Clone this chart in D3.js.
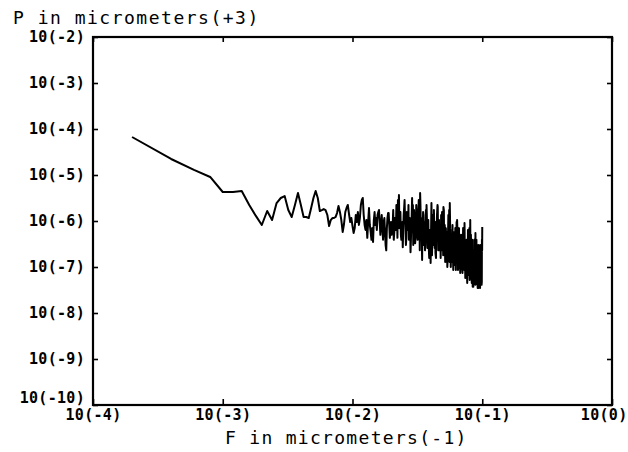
<!DOCTYPE html>
<html><head><meta charset="utf-8">
<script src="https://cdn.jsdelivr.net/npm/d3@7"></script>
<style>html,body{margin:0;padding:0;background:#fff;} svg{display:block;}</style>
</head><body>
<svg id="chart" width="628" height="452"></svg>
<script>
// ---------- data ----------
const xTickValues = [1e-4, 1e-3, 1e-2, 1e-1, 1];
const xTickLabels = ["10(-4)", "10(-3)", "10(-2)", "10(-1)", "10(0)"];
const yTickValues = [1e-10, 1e-9, 1e-8, 1e-7, 1e-6, 1e-5, 1e-4, 1e-3, 1e-2];
const yTickLabels = ["10(-10)", "10(-9)", "10(-8)", "10(-7)", "10(-6)", "10(-5)", "10(-4)", "10(-3)", "10(-2)"];
const yTitle = "P in micrometers(+3)";
const xTitle = "F in micrometers(-1)";

// F in micrometers^-1, P in micrometers^3
const freqA = [0.0002,0.0004,0.0006,0.0008,0.0010,0.0012,0.0014,0.0016,0.0018,0.0020,
  0.0022,0.0024,0.0026,0.0028,0.0030,0.0032,0.0034,0.0036,0.0038,0.0040,
  0.0042,0.0044,0.0046,0.0048,0.0050,0.0052,0.0054,0.0056,0.0058,0.0060,
  0.0062,0.0064,0.0066,0.0068,0.0070,0.0072,0.0074,0.0076,0.0078,0.0080,
  0.0082,0.0084,0.0086,0.0088,0.0090,0.0092,0.0094,0.0096,0.0098,0.0100];
const powerA = [6.70e-5,2.23e-5,1.29e-5,9.06e-6,4.27e-6,4.27e-6,4.49e-6,2.23e-6,1.29e-6,8.19e-7,
  1.65e-6,1.05e-6,2.46e-6,3.16e-6,3.49e-6,1.73e-6,1.22e-6,2.23e-6,4.06e-6,2.23e-6,
  1.22e-6,1.22e-6,1.16e-6,1.92e-6,3.16e-6,4.49e-6,3.16e-6,1.65e-6,1.73e-6,1.82e-6,
  1.73e-6,1.35e-6,7.78e-7,1.05e-6,1.16e-6,1.16e-6,1.22e-6,1.49e-6,2.12e-6,1.57e-6,
  1.05e-6,5.77e-7,8.61e-7,1.57e-6,1.92e-6,2.23e-6,1.42e-6,9.51e-7,1.16e-6,7.78e-7];

const freqB = [0.0102,0.0104,0.0106,0.0108,0.0110,0.0112,0.0114,0.0116,0.0118,0.0120,
  0.0122,0.0124,0.0126,0.0128,0.0130,0.0132,0.0134,0.0136,0.0138,0.0140,
  0.0142,0.0144,0.0146,0.0148,0.0150,0.0152,0.0154,0.0156,0.0158,0.0160,
  0.0162,0.0164,0.0166,0.0168,0.0170,0.0172,0.0174,0.0176,0.0178,0.0180,
  0.0182,0.0184,0.0186,0.0188,0.0190,0.0192,0.0194,0.0196,0.0198,0.0200];
const powerB = [5.5e-7,7.0e-7,1.35e-6,9.5e-7,1.57e-6,8.2e-7,1.16e-6,2.23e-6,2.86e-6,3.16e-6,
  1.35e-6,8.2e-7,6.4e-7,1.05e-6,4.3e-7,9.5e-7,1.92e-6,8.2e-7,5.8e-7,3.9e-7,
  7.0e-7,3.5e-7,1.05e-6,1.57e-6,8.2e-7,1.16e-6,6.4e-7,1.35e-6,1.57e-6,1.73e-6,
  9.5e-7,5.0e-7,8.2e-7,1.35e-6,7.0e-7,3.9e-7,9.5e-7,1.16e-6,5.8e-7,3.0e-7,
  2.3e-7,7.0e-7,1.16e-6,1.49e-6,1.49e-6,8.2e-7,4.3e-7,6.4e-7,9.5e-7,5.0e-7];

const freqC = [0.0204,0.0208,0.0212,0.0216,0.0220,0.0224,0.0228,0.0232,0.0236,0.0240,
  0.0244,0.0248,0.0252,0.0256,0.0260,0.0264,0.0268,0.0272,0.0276,0.0280,
  0.0284,0.0288,0.0292,0.0296,0.0300,0.0304,0.0308,0.0312,0.0316,0.0320,
  0.0324,0.0328,0.0332,0.0336,0.0340,0.0344,0.0348,0.0352,0.0356,0.0360,
  0.0364,0.0368,0.0372,0.0376,0.0380,0.0384,0.0388,0.0392,0.0396,0.0400];
const powerC = [8.2e-7,3.9e-7,1.16e-6,6.4e-7,1.73e-6,2.86e-6,3.67e-6,1.05e-6,5.0e-7,7.0e-7,
  2.7e-7,1.35e-6,2.86e-6,8.2e-7,4.3e-7,1.05e-6,6.4e-7,3.9e-7,1.16e-6,2.1e-7,
  8.2e-7,3.16e-6,2.23e-6,6.4e-7,1.05e-6,3.3e-7,7.0e-7,1.57e-6,5.0e-7,1.16e-6,
  2.86e-6,1.35e-6,4.06e-6,8.2e-7,3.9e-7,1.42e-7,6.4e-7,1.35e-6,5.0e-7,9.5e-7,
  3.0e-7,1.73e-6,2.23e-6,7.0e-7,3.9e-7,1.05e-6,2.3e-7,5.8e-7,1.8e-7,1.22e-7];

const freqC2 = [0.0206,0.0210,0.0214,0.0218,0.0222,0.0226,0.0230,0.0234,0.0238,0.0242,
  0.0246,0.0250,0.0254,0.0258,0.0262,0.0266,0.0270,0.0274,0.0278,0.0282,
  0.0286,0.0290,0.0294,0.0298,0.0302,0.0306,0.0310,0.0314,0.0318,0.0322,
  0.0326,0.0330,0.0334,0.0338,0.0342,0.0346,0.0350,0.0354,0.0358,0.0362,
  0.0366,0.0370,0.0374,0.0378,0.0382,0.0386,0.0390,0.0394,0.0398];
const powerC2 = [1.73e-6,5.8e-7,9.5e-7,2.23e-6,4.3e-7,1.35e-6,7.0e-7,1.57e-6,3.9e-7,9.5e-7,
  6.4e-7,1.92e-6,1.16e-6,3.0e-7,1.57e-6,7.0e-7,2.23e-6,5.0e-7,9.5e-7,3.9e-7,
  1.35e-6,5.8e-7,3.0e-7,1.73e-6,7.0e-7,4.3e-7,2.23e-6,8.2e-7,3.9e-7,1.57e-6,
  7.0e-7,2.3e-7,2.23e-6,1.16e-6,5.0e-7,8.2e-7,1.57e-6,3.0e-7,6.4e-7,2.3e-7,
  9.5e-7,4.3e-7,1.35e-6,2.6e-7,8.2e-7,3.9e-7,1.57e-7,6.4e-7,3.0e-7];

const freqD = [0.0406,0.0412,0.0418,0.0424,0.0430,0.0436,0.0442,0.0448,0.0454,0.0460,
  0.0466,0.0472,0.0478,0.0484,0.0490,0.0496,0.0502,0.0508,0.0514,0.0520,
  0.0526,0.0532,0.0538,0.0544,0.0550,0.0556,0.0562,0.0568,0.0574,0.0580,
  0.0586,0.0592,0.0598,0.0604,0.0610,0.0616,0.0622,0.0628,0.0634,0.0640,
  0.0646,0.0652,0.0658,0.0664,0.0670,0.0676,0.0682,0.0688,0.0694,0.0700,
  0.0706,0.0712,0.0718,0.0724,0.0730,0.0736,0.0742,0.0748,0.0754,0.0760,
  0.0766,0.0772,0.0778,0.0784,0.0790,0.0796,0.0802,0.0808,0.0814,0.0820,
  0.0826,0.0832,0.0838,0.0844,0.0850,0.0856,0.0862,0.0868,0.0874,0.0880,
  0.0886,0.0892,0.0898,0.0904,0.0910,0.0916,0.0922,0.0928,0.0934,0.0940,
  0.0946,0.0952,0.0958,0.0964,0.0970,0.0976,0.0982,0.0988,0.0994,0.1000];
const powerD = [2.46e-6,3.9e-7,8.2e-7,1.73e-6,2.6e-7,2.0e-7,6.4e-7,1.35e-6,2.02e-6,5.0e-7,
  2.3e-7,3.0e-7,1.57e-7,7.0e-7,1.57e-6,1.05e-6,2.02e-6,3.9e-7,8.2e-7,1.8e-7,
  5.0e-7,1.28e-7,1.0e-7,3.9e-7,8.2e-7,1.73e-6,2.46e-6,6.4e-7,1.8e-7,3.9e-7,
  1.28e-7,2.3e-7,8.6e-8,3.0e-7,5.8e-7,1.8e-7,4.3e-7,7.0e-7,9.5e-7,1.05e-6,
  3.0e-7,1.28e-7,2.3e-7,9.5e-8,1.8e-7,7.4e-8,1.42e-7,3.9e-7,1.8e-7,5.0e-7,
  2.3e-7,7.0e-7,3.0e-7,6.4e-7,9.0e-7,2.3e-7,1.1e-7,1.8e-7,6.7e-8,1.28e-7,
  4.5e-8,8.6e-8,2.6e-7,5.0e-7,1.57e-7,7.0e-7,3.0e-7,1.05e-6,2.3e-7,9.5e-8,
  1.8e-7,5.2e-8,1.1e-7,3.7e-8,8.6e-8,2.3e-7,1.28e-7,3.9e-7,1.8e-7,3.0e-7,
  5.5e-7,1.57e-7,6.7e-8,1.28e-7,5.2e-8,8.6e-8,3.5e-8,5.8e-8,3.5e-8,1.1e-7,
  4.1e-8,1.8e-7,6.7e-8,3.0e-7,9.5e-8,4.7e-8,1.28e-7,4.1e-8,3.9e-7,7.4e-7];

const freqD2 = [0.0410,0.0416,0.0422,0.0428,0.0434,0.0440,0.0446,0.0452,0.0458,0.0464,
  0.0470,0.0476,0.0482,0.0488,0.0494,0.0500,0.0506,0.0512,0.0518,0.0524,
  0.0530,0.0536,0.0542,0.0548,0.0554,0.0560,0.0566,0.0572,0.0578,0.0584,
  0.0590,0.0596,0.0602,0.0608,0.0614,0.0620,0.0626,0.0632,0.0638,0.0644,
  0.0650,0.0656,0.0662,0.0668,0.0674,0.0680,0.0686,0.0692,0.0698,0.0704,
  0.0710,0.0716,0.0722,0.0728,0.0734,0.0740,0.0746,0.0752,0.0758,0.0764,
  0.0770,0.0776,0.0782,0.0788,0.0794,0.0800,0.0806,0.0812,0.0818,0.0824,
  0.0830,0.0836,0.0842,0.0848,0.0854,0.0860,0.0866,0.0872,0.0878,0.0884,
  0.0890,0.0896,0.0902,0.0908,0.0914,0.0920,0.0926,0.0932,0.0938,0.0944,
  0.0950,0.0956,0.0962,0.0968,0.0974,0.0980,0.0986,0.0992,0.0998];
const powerD2 = [1.8e-7,1.35e-6,3.0e-7,5.5e-7,9.5e-7,1.57e-7,3.9e-7,2.23e-6,2.3e-7,1.05e-6,
  3.9e-7,7.0e-7,1.35e-6,2.3e-7,5.0e-7,1.8e-7,1.73e-6,3.0e-7,1.28e-7,7.0e-7,
  2.3e-7,5.8e-7,1.57e-7,1.35e-6,3.0e-7,1.28e-7,7.0e-7,1.0e-7,5.0e-7,1.57e-7,
  8.2e-7,1.28e-7,3.9e-7,1.1e-7,2.3e-7,7.0e-7,8.6e-8,3.0e-7,1.57e-7,5.8e-7,
  8.6e-8,3.9e-7,7.0e-7,1.42e-7,3.0e-7,9.5e-8,5.0e-7,1.57e-7,2.3e-7,7.4e-8,
  3.9e-7,1.28e-7,7.0e-7,8.6e-8,2.3e-7,5.8e-8,3.0e-7,1.1e-7,3.9e-7,6.7e-8,
  1.57e-7,6.4e-7,6.7e-8,1.28e-7,3.0e-7,5.2e-8,1.8e-7,8.6e-8,5.0e-7,1.28e-7,
  4.5e-8,3.9e-7,8.6e-8,1.57e-7,3.7e-8,2.3e-7,6.7e-8,3.0e-7,9.5e-8,4.1e-8,
  1.8e-7,5.8e-8,3.9e-7,8.6e-8,4.1e-8,1.57e-7,5.2e-8,3.0e-7,6.7e-8,1.28e-7,
  4.5e-8,1.8e-7,3.5e-8,8.6e-8,2.3e-7,5.8e-8,1.42e-7,4.7e-8,2.3e-7];

// ---------- drawing ----------
const W = 628, H = 452;
const mLeft = 93, mRight = 612, mTop = 37, mBottom = 405;
const svg = d3.select("#chart");
svg.append("rect").attr("width", W).attr("height", H).attr("fill", "#fff");

const x = d3.scaleLog().domain([1e-4, 1]).range([mLeft, mRight]);
const y = d3.scaleLog().domain([1e-10, 1e-2]).range([mBottom, mTop]);

const tickFont = "'DejaVu Sans Mono', 'Liberation Mono', monospace";

function styleAxis(g) {
  g.select(".domain").remove();
  g.selectAll(".tick line").attr("stroke", "#000").attr("stroke-width", 1.6);
  g.selectAll(".tick text")
    .attr("fill", "#000")
    .style("font-family", tickFont)
    .style("font-weight", "bold")
    .style("font-size", "15px")
    .style("letter-spacing", "0.3px");
}

const xLabel = d => xTickLabels[xTickValues.indexOf(d)];
const yLabel = d => yTickLabels[yTickValues.indexOf(d)];

const xAx = svg.append("g").attr("transform", `translate(0,${mBottom})`)
  .call(d3.axisBottom(x).tickValues(xTickValues).tickFormat(xLabel).tickSizeInner(-6).tickSizeOuter(0).tickPadding(4))
  .call(styleAxis);
// last label kept fully inside the picture
xAx.selectAll(".tick text").filter(d => d === 1).attr("text-anchor", "end").attr("x", 15);

svg.append("g").attr("transform", `translate(0,${mTop})`)
  .call(d3.axisTop(x).tickValues(xTickValues).tickFormat("").tickSizeInner(-5).tickSizeOuter(0))
  .call(styleAxis);
const yAx = svg.append("g").attr("transform", `translate(${mLeft},0)`)
  .call(d3.axisLeft(y).tickValues(yTickValues).tickFormat(yLabel).tickSizeInner(-5).tickSizeOuter(0).tickPadding(8))
  .call(styleAxis);
yAx.selectAll(".tick text").filter(d => d === 1e-10).attr("dy", "-0.15em");
svg.append("g").attr("transform", `translate(${mRight},0)`)
  .call(d3.axisRight(y).tickValues(yTickValues).tickFormat("").tickSizeInner(-5).tickSizeOuter(0))
  .call(styleAxis);

// frame
svg.append("rect")
  .attr("x", mLeft).attr("y", mTop)
  .attr("width", mRight - mLeft).attr("height", mBottom - mTop)
  .attr("fill", "none").attr("stroke", "#000").attr("stroke-width", 2.2);

// data line
function pairs(fs, ps) {
  const n = Math.min(fs.length, ps.length);
  return d3.range(n).map(i => ({f: fs[i], p: ps[i]}));
}
const pts = [].concat(
  pairs(freqA, powerA), pairs(freqB, powerB), pairs(freqC, powerC),
  pairs(freqC2, powerC2), pairs(freqD, powerD), pairs(freqD2, powerD2)
).sort((a, b) => a.f - b.f);

svg.append("path")
  .datum(pts)
  .attr("fill", "none")
  .attr("stroke", "#000")
  .attr("stroke-width", 2)
  .attr("stroke-linejoin", "round")
  .attr("d", d3.line().x(d => x(d.f)).y(d => y(d.p)));

// titles
svg.append("text")
  .attr("x", 13).attr("y", 24)
  .style("font-family", tickFont).style("font-size", "18px").style("letter-spacing", "1.5px")
  .attr("fill", "#000")
  .text(yTitle);
svg.append("text")
  .attr("x", 225).attr("y", 444)
  .style("font-family", tickFont).style("font-size", "18px").style("letter-spacing", "1.3px")
  .attr("fill", "#000")
  .text(xTitle);
</script>
</body></html>
